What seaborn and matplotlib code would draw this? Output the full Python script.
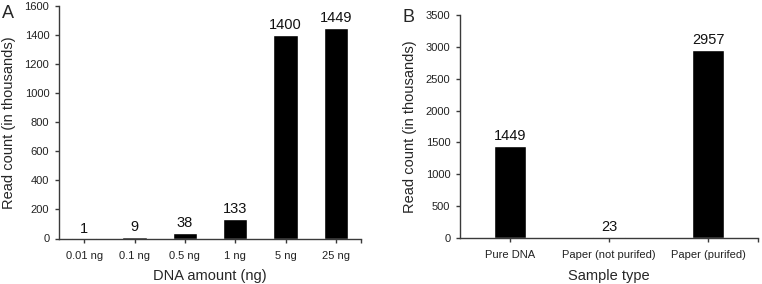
import matplotlib
matplotlib.use("Agg")
import matplotlib.pyplot as plt
import seaborn as sns
import pandas as pd

sns.set_theme(style="white")
plt.rcParams['font.family'] = ['Liberation Sans', 'DejaVu Sans']

# Panel A data
dna_amounts = ["0.01 ng", "0.1 ng", "0.5 ng", "1 ng", "5 ng", "25 ng"]
dna_reads = [1, 9, 38, 133, 1400, 1449]
a_yticks = [0, 200, 400, 600, 800, 1000, 1200, 1400, 1600]

# Panel B data
sample_types = ["Pure DNA", "Paper (not purifed)", "Paper (purifed)"]
sample_reads = [1449, 23, 2957]
b_yticks = [0, 500, 1000, 1500, 2000, 2500, 3000, 3500]

W, H = 762, 284
fig = plt.figure(figsize=(W / 100, H / 100), dpi=100)

def box(l, t, r, b):
    return [l / W, 1 - b / H, (r - l) / W, (b - t) / H]

axA = fig.add_axes(box(59, 6, 361, 238.5))
axB = fig.add_axes(box(460, 15, 758, 238))

dfA = pd.DataFrame({"amount": dna_amounts, "reads": dna_reads})
dfB = pd.DataFrame({"sample": sample_types, "reads": sample_reads})

sns.barplot(data=dfA, x="amount", y="reads", color="black", width=0.48,
            saturation=1, ax=axA)
sns.barplot(data=dfB, x="sample", y="reads", color="black", width=0.32,
            saturation=1, ax=axB)

spine_col = "#3a3a3a"
for ax, yt, n in [(axA, a_yticks, len(dna_amounts)), (axB, b_yticks, len(sample_types))]:
    ax.set_ylim(yt[0], yt[-1])
    ax.set_yticks(yt)
    ax.set_xlim(-0.5, n - 0.5)
    ax.set_xticks([n - 0.5], minor=True)
    for s in ["top", "right"]:
        ax.spines[s].set_visible(False)
    for s in ["left", "bottom"]:
        ax.spines[s].set_color(spine_col)
        ax.spines[s].set_linewidth(1.0)
    ax.tick_params(axis="both", which="both", direction="out", length=3,
                   width=1.0, color=spine_col, labelsize=8, pad=3,
                   labelcolor="#222222", bottom=True, left=True)
    ax.tick_params(axis="y", pad=4)
    ax.tick_params(axis="x", pad=6)
    ax.bar_label(ax.containers[0], fontsize=10.5, padding=2, color="#111111")
    ax.grid(False)

axA.set_xlabel("DNA amount (ng)", fontsize=10.5, labelpad=6)
axA.set_ylabel("Read count (in thousands)", fontsize=10.5, labelpad=6)
axB.set_xlabel("Sample type", fontsize=10.5, labelpad=6)
axB.set_ylabel("Read count (in thousands)", fontsize=10.5, labelpad=6)

fig.text(2 / W, 1 - 13 / H, "A", fontsize=13, va="center", ha="left")
fig.text(403 / W, 1 - 18 / H, "B", fontsize=13, va="center", ha="left")

fig.savefig("out.png", dpi=100)
